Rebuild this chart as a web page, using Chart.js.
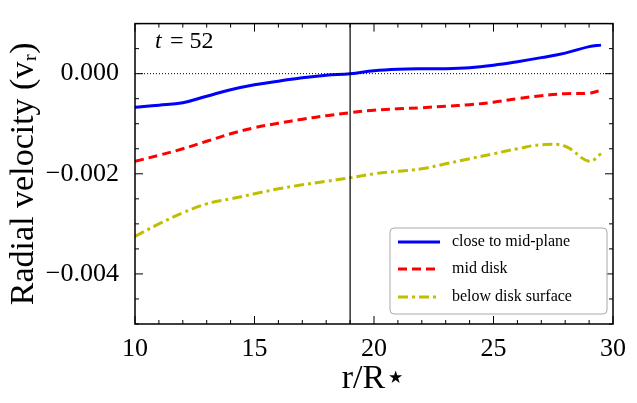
<!DOCTYPE html>
<html><head><meta charset="utf-8">
<script src="https://cdn.jsdelivr.net/npm/chart.js@4"></script>
<style>html,body{margin:0;padding:0;background:#fff}#w{width:637px;height:403px}</style>
</head><body><div id="w"><canvas id="c"></canvas></div>
<script>
const xMid = [10,11,12,13,14,15,16,17,18,19,20,21,22,23,24,25,26,27,28,29,29.5];
const closeMid = [-0.00067,-0.00063,-0.00058,-0.00045,-0.00032,-0.00022,-0.00015,-0.00008,-0.00003,0,0.00006,0.00009,0.0001,0.0001,0.00012,0.00017,0.00024,0.00032,0.00041,0.00054,0.00057];
const midDisk = [-0.00175,-0.00163,-0.0015,-0.00135,-0.0012,-0.00108,-0.00099,-0.00091,-0.00084,-0.00078,-0.00073,-0.0007,-0.00068,-0.00065,-0.00062,-0.00057,-0.0005,-0.00044,-0.0004,-0.00039,-0.00033];
const belowSurf = [-0.00325,-0.003,-0.00278,-0.0026,-0.0025,-0.0024,-0.0023,-0.00222,-0.00215,-0.00208,-0.002,-0.00195,-0.0019,-0.0018,-0.0017,-0.0016,-0.0015,-0.00142,-0.00145,-0.00175,-0.0016];
const seriesNames = ["close to mid-plane","mid disk","below disk surface"];
const colors = ["#0000ff","#ff0000","#bfbf00"];
const dashes = [[],[9,5],[10,4,3,4]];
const xTicks = [10,15,20,25,30];
const yTicks = [0,-0.002,-0.004];
const serif = "'Liberation Serif','DejaVu Serif',serif";
const fmt = v => v===0 ? "0.000" : "\u2212"+Math.abs(v).toFixed(3);

const deco = {
  id:'deco',
  afterDatasetsDraw(ch){
    const c=ch.ctx, a=ch.chartArea, xs=ch.scales.x, ys=ch.scales.y;
    c.save();
    c.strokeStyle='#000'; c.lineWidth=1; c.setLineDash([1,2]);
    let y0=ys.getPixelForValue(0);
    c.beginPath(); c.moveTo(a.left,y0); c.lineTo(a.right,y0); c.stroke();
    c.setLineDash([]);
    let xv=xs.getPixelForValue(19);
    c.lineWidth=1.2; c.beginPath(); c.moveTo(xv,a.top); c.lineTo(xv,a.bottom); c.stroke();
    c.lineWidth=1.5; c.strokeRect(a.left,a.top,a.right-a.left,a.bottom-a.top);
    c.lineWidth=1;
    for(let v=10;v<=30;v+=1){const p=xs.getPixelForValue(v);const L=(v%5===0)?8:4;
      c.beginPath();c.moveTo(p,a.bottom);c.lineTo(p,a.bottom-L);c.moveTo(p,a.top);c.lineTo(p,a.top+L);c.stroke();}
    for(let k=-10;k<=2;k++){const v=k*0.0005;const p=ys.getPixelForValue(v);const L=(k%4===0)?8:4;
      c.beginPath();c.moveTo(a.left,p);c.lineTo(a.left+L,p);c.moveTo(a.right,p);c.lineTo(a.right-L,p);c.stroke();}
    c.fillStyle='#000'; c.font="italic 24px "+serif; c.textBaseline='alphabetic';
    c.fillText('t',155,48); c.font="24px "+serif; c.fillText('= 52',170,48);
    const bx=390,by=228,bw=217,bh=86;
    c.fillStyle='rgba(255,255,255,0.9)'; c.beginPath(); c.roundRect(bx,by,bw,bh,4); c.fill();
    c.strokeStyle='#aaa'; c.lineWidth=1; c.stroke();
    c.font="16px "+serif; c.textBaseline='middle';
    [242,269,297].forEach((yy,i)=>{
      c.strokeStyle=colors[i]; c.lineWidth=3; c.setLineDash(dashes[i]);
      c.beginPath(); c.moveTo(398,yy); c.lineTo(440,yy); c.stroke(); c.setLineDash([]);
      c.fillStyle='#000'; c.fillText(seriesNames[i],452,yy);
    });
    c.restore();
  }
};

new Chart(document.getElementById('c'),{
  type:'line',
  data:{datasets:[closeMid,midDisk,belowSurf].map((d,i)=>({
    label:seriesNames[i], data:xMid.map((x,j)=>({x,y:d[j]})),
    borderColor:colors[i], borderWidth:3, borderDash:dashes[i], pointRadius:0, tension:0.4, fill:false}))},
  options:{
    responsive:true, maintainAspectRatio:false, animation:false,
    layout:{padding:{top:-3,right:24,left:0,bottom:0}},
    plugins:{legend:{display:false},tooltip:{enabled:false}},
    scales:{
      x:{type:'linear',min:10,max:30,grid:{display:false},border:{display:false},
        afterBuildTicks:s=>{s.ticks=xTicks.map(v=>({value:v}));},
        afterFit:s=>{s.height=79;},
        ticks:{color:'#000',font:{family:serif,size:26},padding:2,maxRotation:0},
        title:{display:true,text:'r/R\u22C6',color:'#000',font:{family:serif,size:34},padding:{top:0}}},
      y:{min:-0.005,max:0.001,grid:{display:false},border:{display:false},
        afterBuildTicks:s=>{s.ticks=yTicks.map(v=>({value:v}));},
        afterFit:s=>{s.width=135;},
        ticks:{color:'#000',font:{family:serif,size:26},padding:8,callback:v=>fmt(v)},
        title:{display:true,text:'Radial velocity (v\u1D63)',color:'#000',font:{family:serif,size:34},padding:{bottom:0}}}
    }
  },
  plugins:[deco]
});
</script></body></html>
